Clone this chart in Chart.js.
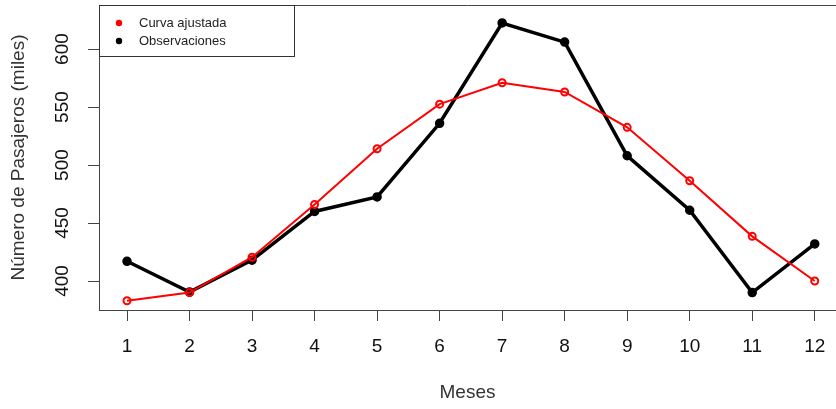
<!DOCTYPE html>
<html>
<head>
<meta charset="utf-8">
<script src="https://cdn.jsdelivr.net/npm/chart.js@4/dist/chart.umd.min.js"></script>
<style>
  html, body { margin: 0; padding: 0; background: #fff; }
  #wrap { width: 836px; height: 409px; }
</style>
</head>
<body>
<div id="wrap"><canvas id="c" width="836" height="409"></canvas></div>
<script>
// Monthly passengers (thousands): observed vs fitted curve
const meses = [1, 2, 3, 4, 5, 6, 7, 8, 9, 10, 11, 12];
const curvaAjustada = [383, 390, 420.5, 466, 514, 552.5, 571, 563, 532.5, 486.5, 438.5, 400];
const observaciones = [417, 390.5, 418, 460, 472.5, 536, 622.5, 606, 508, 461, 390, 432];
const yTicks = [400, 450, 500, 550, 600];

const FONT = "'Liberation Sans', Arial, Helvetica, sans-serif";
const AXIS_COLOR = '#444';

const toPoints = vals => meses.map((m, i) => ({ x: m, y: vals[i] }));

// Top frame line, rotated y tick labels and the boxed legend
const decorations = {
  id: 'decorations',
  afterDraw(chart) {
    const { ctx, chartArea } = chart;
    const yScale = chart.scales.y;
    ctx.save();

    // top frame line
    ctx.strokeStyle = AXIS_COLOR;
    ctx.lineWidth = 1;
    ctx.beginPath();
    ctx.moveTo(chartArea.left, chartArea.top + 0.5);
    ctx.lineTo(chart.width, chartArea.top + 0.5);
    ctx.stroke();

    // y tick labels, reading bottom to top
    ctx.fillStyle = '#111';
    ctx.font = '19px ' + FONT;
    ctx.textAlign = 'center';
    ctx.textBaseline = 'middle';
    yTicks.forEach(v => {
      const py = yScale.getPixelForValue(v);
      ctx.save();
      ctx.translate(chartArea.left - 36, py);
      ctx.rotate(-Math.PI / 2);
      ctx.fillText(String(v), 0, 0);
      ctx.restore();
    });

    // legend box
    const bx = chartArea.left, by = chartArea.top, bw = 195, bh = 51;
    ctx.fillStyle = '#fff';
    ctx.fillRect(bx, by, bw, bh);
    ctx.strokeStyle = '#333';
    ctx.lineWidth = 1;
    ctx.strokeRect(bx + 0.5, by + 0.5, bw, bh);
    ctx.font = '13px ' + FONT;
    ctx.textAlign = 'left';
    ctx.textBaseline = 'middle';
    chart.data.datasets.forEach((ds, i) => {
      const cy = by + 18 + i * 18;
      ctx.fillStyle = ds.legendColor;
      ctx.beginPath();
      ctx.arc(bx + 20, cy, 3.2, 0, Math.PI * 2);
      ctx.fill();
      ctx.fillStyle = '#222';
      ctx.fillText(ds.label, bx + 40, cy + 0.5);
    });
    ctx.restore();
  }
};

new Chart(document.getElementById('c'), {
  type: 'line',
  data: {
    datasets: [
      {
        label: 'Curva ajustada',
        legendColor: '#ff0000',
        data: toPoints(curvaAjustada),
        borderColor: '#ff0000',
        borderWidth: 2,
        pointRadius: 3.5,
        pointBorderWidth: 2,
        pointBorderColor: '#ff0000',
        pointBackgroundColor: 'rgba(0,0,0,0)',
        tension: 0
      },
      {
        label: 'Observaciones',
        legendColor: '#000000',
        data: toPoints(observaciones),
        borderColor: '#000000',
        borderWidth: 3.5,
        pointRadius: 4,
        pointBorderWidth: 1.5,
        pointBorderColor: '#000000',
        pointBackgroundColor: '#000000',
        tension: 0
      }
    ]
  },
  options: {
    responsive: false,
    animation: false,
    devicePixelRatio: 1,
    layout: { autoPadding: false, padding: { top: 5, right: 0, bottom: 0, left: 0 } },
    plugins: { legend: { display: false }, tooltip: { enabled: false } },
    scales: {
      x: {
        type: 'linear',
        min: 0.552,
        max: 12.34,
        afterBuildTicks: s => { s.ticks = meses.map(v => ({ value: v })); },
        afterFit: s => { s.height = 99; s.paddingLeft = 0; s.paddingRight = 0; },
        border: { display: true, color: AXIS_COLOR, width: 1 },
        grid: { display: true, drawOnChartArea: false, drawTicks: true, tickLength: 11, color: AXIS_COLOR },
        ticks: {
          color: '#111',
          font: { family: FONT, size: 19 },
          padding: 14,
          maxRotation: 0,
          autoSkip: false,
          callback: v => String(v)
        },
        title: {
          display: true,
          text: 'Meses',
          color: '#333',
          font: { family: FONT, size: 19 },
          padding: { top: 0, bottom: 5 }
        }
      },
      y: {
        type: 'linear',
        min: 375,
        max: 638,
        afterBuildTicks: s => { s.ticks = yTicks.map(v => ({ value: v })); },
        afterFit: s => { s.width = 99; s.paddingTop = 0; s.paddingBottom = 0; },
        border: { display: true, color: AXIS_COLOR, width: 1 },
        grid: { display: true, drawOnChartArea: false, drawTicks: true, tickLength: 11, color: AXIS_COLOR },
        ticks: { display: false },
        title: {
          display: true,
          text: 'Número de Pasajeros (miles)',
          color: '#333',
          font: { family: FONT, size: 19 },
          padding: { top: 7, bottom: 7 }
        }
      }
    }
  },
  plugins: [decorations]
});
</script>
</body>
</html>
